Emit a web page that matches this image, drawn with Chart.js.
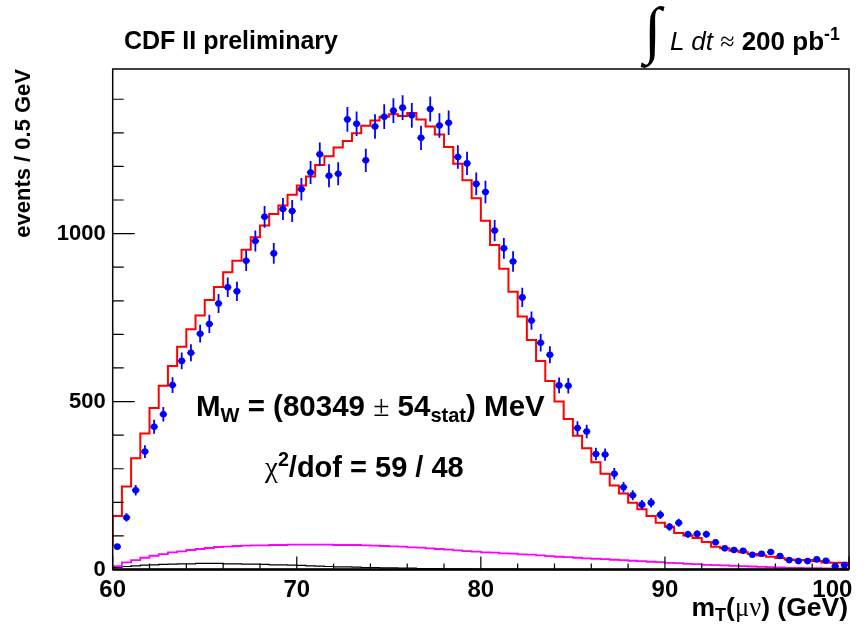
<!DOCTYPE html>
<html>
<head>
<meta charset="utf-8">
<script src="https://cdn.jsdelivr.net/npm/chart.js@4.4.1/dist/chart.umd.min.js"></script>
<style>
  html, body { margin: 0; padding: 0; background: #fff; }
  #wrap { position: relative; width: 868px; height: 625px; font-family: "Liberation Sans", Arial, sans-serif; }
  #wrap canvas { position: absolute; left: 0; top: 0; }
  .txt { position: absolute; white-space: nowrap; line-height: 1; color: #000; font-weight: bold; }
  .sym { font-family: "Liberation Serif", serif; font-weight: normal; }
  .sb { position: relative; font-size: 0.68em; top: 0.3em; }
  .sp { position: relative; font-size: 0.68em; top: -0.55em; }
</style>
</head>
<body>
<div id="wrap">
  <canvas id="mtChart" width="868" height="625"></canvas>

  <div class="txt" style="left:124px; top:28px; font-size:25px;">CDF II preliminary</div>

  <div class="txt sym" style="left:644px; top:-1px; font-size:63px;">&#8747;</div>
  <div class="txt" style="left:670px; top:28px; font-size:26px;"><span style="font-style:italic; font-weight:normal;">L dt</span> <span class="sym">&#8776;</span> 200 pb<span class="sp">-1</span></div>

  <div class="txt" style="left:196px; top:391px; font-size:29.5px;">M<span class="sb">W</span> = (80349 <span class="sym">&#177;</span> 54<span class="sb">stat</span>) MeV</div>
  <div class="txt" style="left:265px; top:453px; font-size:29px;"><span class="sym">&#967;</span><span class="sp">2</span>/dof = 59 / 48</div>

  <div class="txt" style="right:20px; top:594px; font-size:26.5px;">m<span class="sb">T</span>(<span class="sym">&#956;&#957;</span>) (GeV)</div>
</div>

<script>
const xMin = 60, xMax = 100, binWidth = 0.5;
const yMax = 1490;
const xTickLabels = [60, 70, 80, 90, 100];
const yTickLabels = [0, 500, 1000];

// data, events per 0.5 GeV bin from 60 to 100 GeV
const dataCounts = [68, 155, 236, 351, 425, 462, 549, 621, 645, 702,
  731, 792, 840, 828, 919, 978, 1050, 941, 1073, 1067,
  1132, 1182, 1236, 1172, 1178, 1340, 1327, 1218, 1319, 1348,
  1366, 1375, 1352, 1285, 1371, 1322, 1330, 1228, 1209, 1148,
  1124, 1009, 956, 917, 810, 741, 675, 639, 548, 547,
  421, 411, 344, 342, 285, 245, 221, 193, 199, 163,
  127, 139, 105, 106, 105, 81, 63, 58, 56, 44,
  47, 52, 40, 28, 25, 25, 30, 26, 10, 13];

// simulation + backgrounds (red)
const fitCounts = [70, 159, 247, 331, 405, 481, 547, 606, 663, 715,
  756, 802, 841, 885, 919, 952, 989, 1024, 1058, 1084,
  1116, 1143, 1170, 1204, 1230, 1256, 1276, 1299, 1321, 1337,
  1348, 1355, 1350, 1359, 1340, 1319, 1295, 1258, 1208, 1159,
  1105, 1038, 966, 895, 827, 753, 683, 621, 561, 500,
  448, 398, 361, 319, 285, 250, 226, 199, 179, 159,
  139, 127, 109, 101, 94, 82, 68, 63, 56, 51,
  46, 42, 38, 34, 30, 28, 28, 25, 21, 20];

// backgrounds
const bkgMagenta = [0, 10, 21, 28, 35, 41, 46, 51, 54, 58,
  61, 64, 67, 68, 70, 71, 72, 72, 73, 73,
  74, 74, 74, 74, 74, 73, 73, 73, 72, 71,
  70, 69, 68, 66, 65, 63, 61, 59, 57, 55,
  53, 51, 50, 48, 47, 45, 44, 42, 40, 38,
  37, 35, 33, 32, 31, 29, 28, 26, 25, 23,
  22, 20, 19, 17, 16, 14, 13, 12, 11, 10,
  9, 8, 7, 6, 5, 5, 4, 4, 3, 3];

const bkgBlack = [3, 6, 9, 11, 13, 14, 15, 16, 17, 17,
  18, 18, 18, 17, 17, 16, 16, 15, 14, 14,
  13, 12, 11, 10, 9, 8, 8, 7, 6, 6,
  5, 5, 4, 4, 3, 3, 3, 2, 2, 2,
  1, 1, 1, 1, 1, 0, 0, 0, 0, 0,
  0, 0, 0, 0, 0, 0, 0, 0, 0, 0,
  0, 0, 0, 0, 0, 0, 0, 0, 0, 0,
  0, 0, 0, 0, 0, 0, 0, 0, 0, 0];

// step histogram: one point per low edge, plus the last upper edge
function histPoints(vals) {
  const pts = vals.map((v, i) => ({ x: xMin + i * binWidth, y: v }));
  pts.push({ x: xMin + vals.length * binWidth, y: vals[vals.length - 1] });
  return pts;
}

const errorBars = {
  id: 'errorBars',
  afterDatasetsDraw(chart) {
    const xs = chart.scales.x, ys = chart.scales.y, ctx = chart.ctx;
    ctx.save();
    ctx.strokeStyle = '#0000ff';
    ctx.lineWidth = 1.8;
    ctx.beginPath();
    dataCounts.forEach((n, i) => {
      const xc = xMin + (i + 0.5) * binWidth;
      const e = Math.sqrt(n);
      const px = xs.getPixelForValue(xc);
      ctx.moveTo(px, ys.getPixelForValue(Math.max(0, n - e)));
      ctx.lineTo(px, ys.getPixelForValue(n + e));
      ctx.moveTo(xs.getPixelForValue(xc - 0.2), ys.getPixelForValue(n));
      ctx.lineTo(xs.getPixelForValue(xc + 0.2), ys.getPixelForValue(n));
    });
    ctx.stroke();
    ctx.restore();
  }
};

// frame with inward ticks like the original
const frame = {
  id: 'frame',
  afterDraw(chart) {
    const { ctx, chartArea: a, scales: { x, y } } = chart;
    ctx.save();
    ctx.strokeStyle = '#000';
    ctx.lineWidth = 1.5;
    ctx.strokeRect(a.left, a.top, a.right - a.left, a.bottom - a.top);
    ctx.lineWidth = 2.5;
    ctx.beginPath();
    ctx.moveTo(a.left, a.bottom);
    ctx.lineTo(a.right, a.bottom);
    ctx.stroke();
    ctx.lineWidth = 1.2;
    ctx.beginPath();
    for (let v = 0; v < yMax; v += 100) {
      const py = y.getPixelForValue(v);
      const len = v % 500 === 0 ? 22 : 11;
      ctx.moveTo(a.left, py);
      ctx.lineTo(a.left + len, py);
    }
    for (let v = xMin; v <= xMax; v += 2) {
      const px = x.getPixelForValue(v);
      const len = v % 10 === 0 ? 13 : 6;
      ctx.moveTo(px, a.bottom);
      ctx.lineTo(px, a.bottom - len);
    }
    ctx.stroke();
    ctx.restore();
  }
};

const tickFont = { family: 'Liberation Sans', weight: 'bold' };

new Chart(document.getElementById('mtChart'), {
  type: 'line',
  data: {
    datasets: [
      {
        label: 'data',
        type: 'scatter',
        data: dataCounts.map((v, i) => ({ x: xMin + (i + 0.5) * binWidth, y: v })),
        pointRadius: 3.3,
        pointBackgroundColor: '#0000ff',
        pointBorderWidth: 0,
        showLine: false,
        order: 0
      },
      {
        label: 'fit',
        data: histPoints(fitCounts),
        stepped: 'after',
        borderColor: '#ff0000',
        borderWidth: 2,
        pointRadius: 0,
        order: 1
      },
      {
        label: 'bkg',
        data: histPoints(bkgMagenta),
        stepped: 'after',
        borderColor: '#ff00ff',
        borderWidth: 1.8,
        pointRadius: 0,
        order: 2
      },
      {
        label: 'bkg2',
        data: histPoints(bkgBlack),
        stepped: 'after',
        borderColor: '#000000',
        borderWidth: 1.2,
        pointRadius: 0,
        order: 3
      }
    ]
  },
  options: {
    responsive: false,
    animation: false,
    devicePixelRatio: 1,
    layout: { padding: { top: 69, right: 19, bottom: 0, left: 0 } },
    plugins: { legend: { display: false }, tooltip: { enabled: false }, title: { display: false } },
    scales: {
      x: {
        type: 'linear',
        min: xMin,
        max: xMax,
        grid: { display: false, drawTicks: false },
        border: { display: false },
        afterBuildTicks(s) { s.ticks = xTickLabels.map(v => ({ value: v })); },
        ticks: {
          padding: 6,
          color: '#000',
          maxRotation: 0,
          autoSkip: false,
          font: { ...tickFont, size: 24 },
          callback: v => v === xMax ? v + '\u00a0'.repeat(5) : String(v)
        },
        afterFit(s) { s.height = 55.5; s.paddingLeft = 0; s.paddingRight = 0; }
      },
      y: {
        min: 0,
        max: yMax,
        grid: { display: false, drawTicks: false },
        border: { display: false },
        afterBuildTicks(s) { s.ticks = yTickLabels.map(v => ({ value: v })); },
        ticks: {
          padding: 7,
          color: '#000',
          autoSkip: false,
          font: { ...tickFont, size: 22 },
          callback: v => String(v)
        },
        title: {
          display: true,
          text: 'events / 0.5 GeV',
          align: 'end',
          color: '#000',
          font: { ...tickFont, size: 22 },
          padding: { top: 11, bottom: 0 }
        },
        afterFit(s) { s.width = 112.7; s.paddingTop = 0; s.paddingBottom = 0; }
      }
    }
  },
  plugins: [errorBars, frame]
});
</script>
</body>
</html>
